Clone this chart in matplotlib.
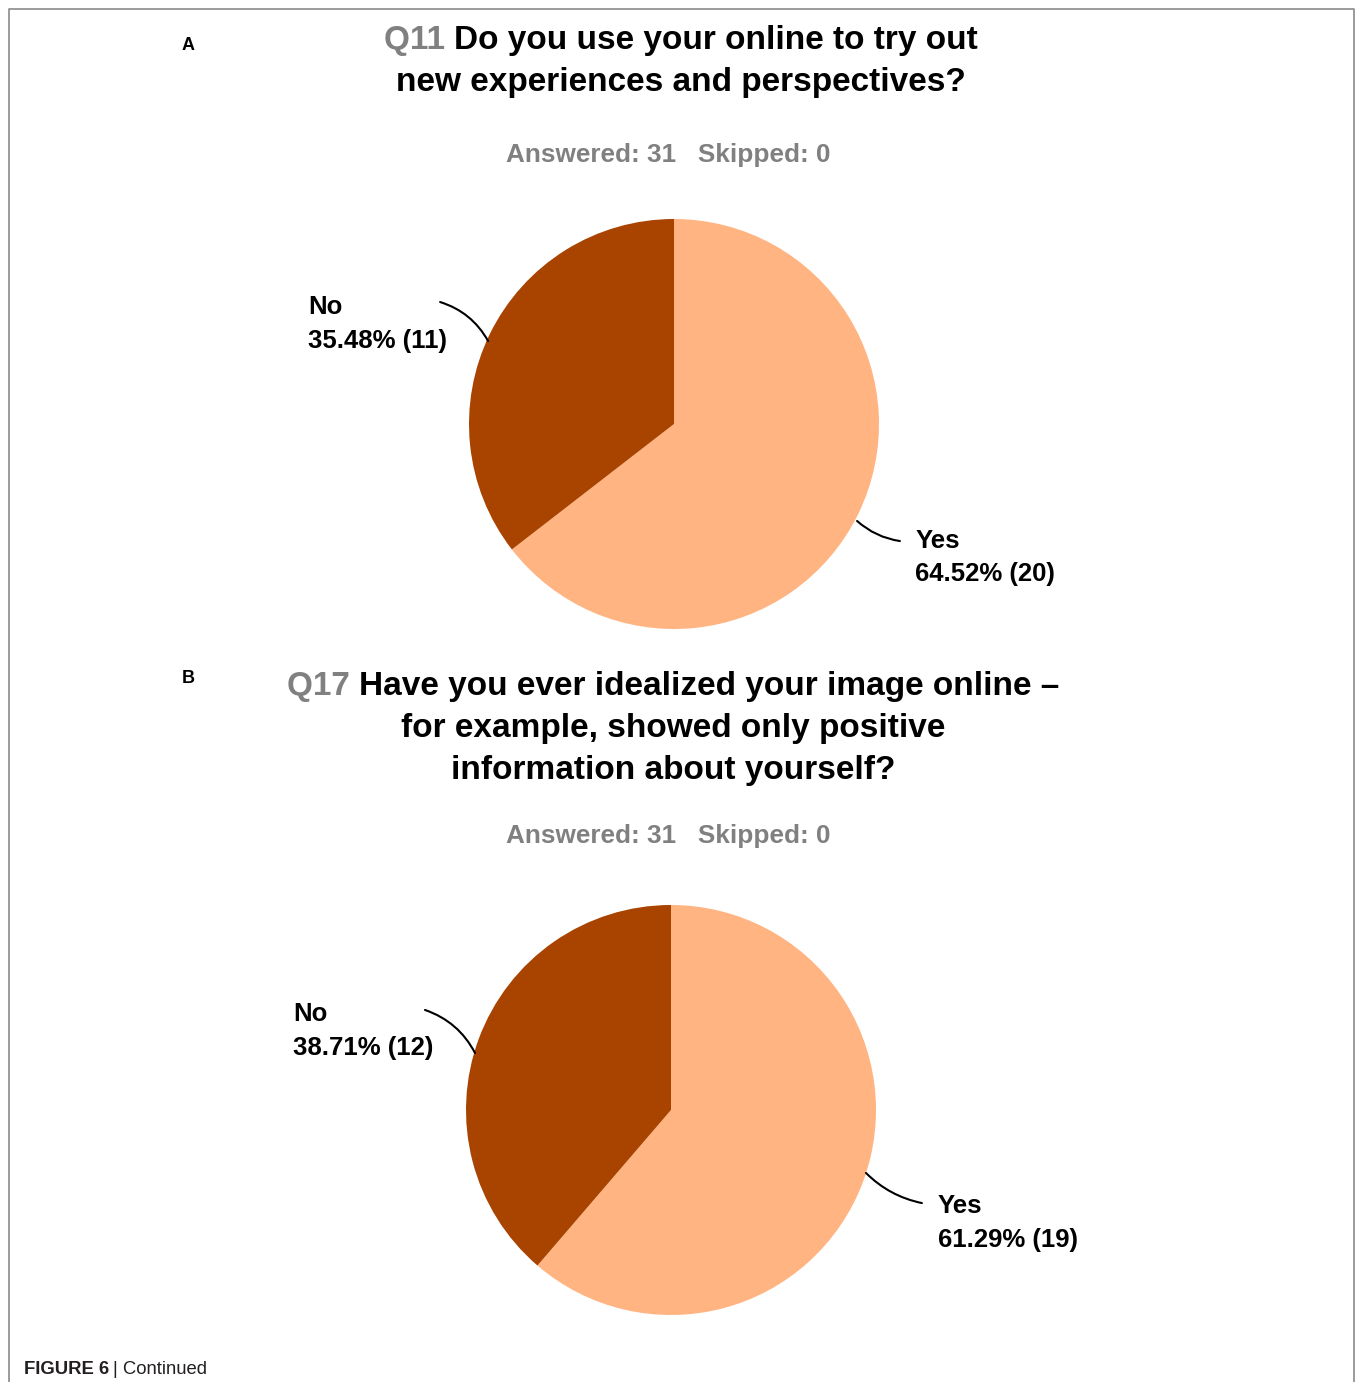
import matplotlib
matplotlib.use("Agg")
import matplotlib.pyplot as plt

# Survey answers
answers = ["Yes", "No"]
q11_counts = [20, 11]
q17_counts = [19, 12]
answered = 31
skipped = 0

q11_tag = "Q11"
q11_lines = ["Do you use your online to try out", "new experiences and perspectives?"]
q17_tag = "Q17"
q17_lines = ["Have you ever idealized your image online \u2013",
             "for example, showed only positive",
             "information about yourself?"]

slice_colors = ["#FFB482", "#A94300"]
GRAY = "#808080"

W, H = 1357, 1382
plt.rcParams["font.family"] = ["Liberation Sans", "DejaVu Sans"]
fig = plt.figure(figsize=(W / 100, H / 100), dpi=100)
renderer = fig.canvas.get_renderer()


def fx(x):
    return x / W


def fy(y):
    return 1 - y / H


def centered_mixed_line(cx, cy, parts, size):
    """Draw a line made of (text, color) parts, centred at pixel (cx, cy)."""
    objs = [fig.text(0, fy(cy), t, color=c, fontsize=size, fontweight="bold",
                     va="center", ha="left") for t, c in parts]
    widths = [o.get_window_extent(renderer).width for o in objs]
    x = cx - sum(widths) / 2
    for o, w in zip(objs, widths):
        o.set_x(fx(x))
        x += w


def draw_title(cx, y0, tag, lines, size=24, step=42):
    centered_mixed_line(cx, y0, [(tag + " ", GRAY), (lines[0], "black")], size)
    for i, line in enumerate(lines[1:], start=1):
        fig.text(fx(cx), fy(y0 + i * step), line, fontsize=size,
                 fontweight="bold", ha="center", va="center", color="black")


def draw_pie(cx, cy, counts, label_pos, leader, rads):
    R = 205
    ax = fig.add_axes([fx(cx - R), fy(cy + R), 2 * R / W, 2 * R / H])
    ax.pie(counts, colors=slice_colors, startangle=90, counterclock=False,
           radius=1, wedgeprops=dict(linewidth=0))
    ax.set_xlim(-1, 1)
    ax.set_ylim(-1, 1)
    ax.axis("off")
    total = sum(counts)
    for name, n, (lx, ly), (p0, p1), rad in zip(answers, counts, label_pos, leader, rads):
        ax.text(lx, ly, f"{name}\n{n / total * 100:.2f}% ({n})", fontsize=18.5,
                fontweight="bold", ha="left", va="center", linespacing=1.5,
                clip_on=False)
        ax.annotate("", xy=p1, xytext=p0, annotation_clip=False,
                    arrowprops=dict(arrowstyle="-", color="black", lw=1.5,
                                    shrinkA=0, shrinkB=0,
                                    connectionstyle=f"arc3,rad={rad}"))


# Panel A
fig.text(fx(188), fy(45), "A", fontsize=13, fontweight="bold", ha="center", va="center")
draw_title(681, 40, q11_tag, q11_lines)
fig.text(fx(668), fy(155), f"Answered: {answered}   Skipped: {skipped}", fontsize=18.8,
         fontweight="bold", color=GRAY, ha="center", va="center")
draw_pie(674, 424, q11_counts,
         label_pos=[(1.176, -0.652), (-1.785, 0.487)],
         leader=[((1.102, -0.571), (0.893, -0.473)),
                 ((-1.141, 0.595), (-0.907, 0.405))],
         rads=[-0.15, -0.2])

# Panel B
fig.text(fx(188), fy(679), "B", fontsize=13, fontweight="bold", ha="center", va="center")
draw_title(673, 686, q17_tag, q17_lines)
fig.text(fx(668), fy(836), f"Answered: {answered}   Skipped: {skipped}", fontsize=18.8,
         fontweight="bold", color=GRAY, ha="center", va="center")
draw_pie(671, 1110, q17_counts,
         label_pos=[(1.302, -0.552), (-1.844, 0.385)],
         leader=[((1.224, -0.454), (0.951, -0.307)),
                 ((-1.2, 0.488), (-0.956, 0.278))],
         rads=[-0.15, -0.2])

# Frame around the figure panel (open at the bottom)
frame = fig.add_axes([0, 0, 1, 1], zorder=-1)
frame.set_xlim(0, W)
frame.set_ylim(H, 0)
frame.axis("off")
frame.plot([8.5, 8.5, 1354, 1354], [H, 8.5, 8.5, H], color="#8a8a8a", lw=1.2)

# Caption
cap = fig.text(fx(24), fy(1370), "FIGURE 6", fontsize=13.3, fontweight="bold",
               color="#231f20", ha="left", va="center")
wcap = cap.get_window_extent(renderer).width
fig.text(fx(24 + wcap + 4), fy(1370), "| Continued", fontsize=13.3, color="#231f20",
         ha="left", va="center")

fig.savefig("out.png", dpi=100)
